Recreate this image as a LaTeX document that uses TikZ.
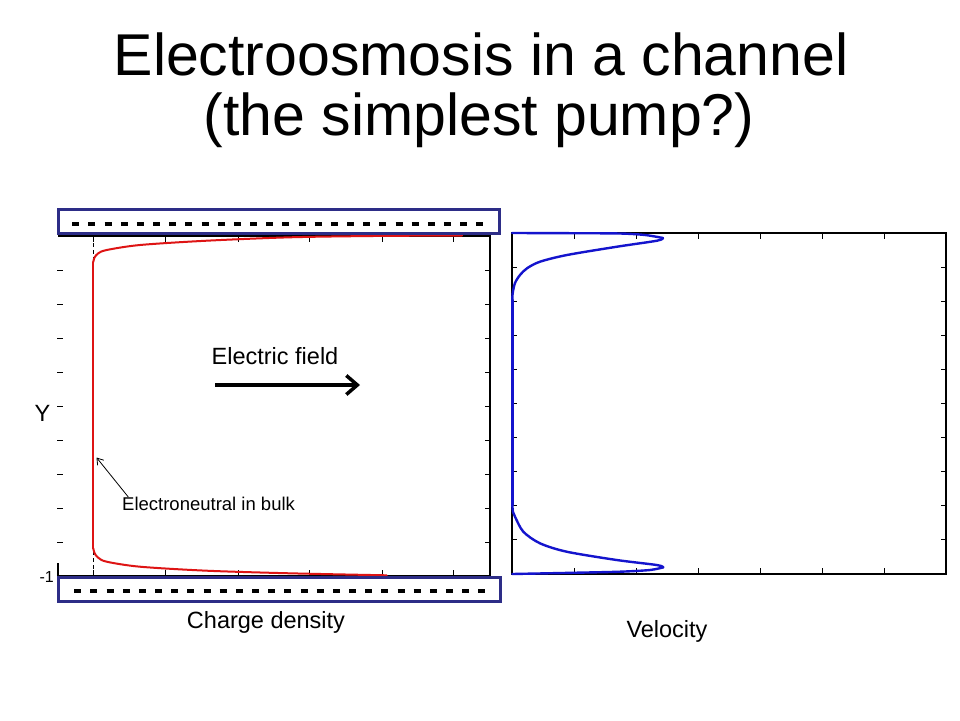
\documentclass[tikz,border=0pt]{standalone}
\usepackage{fontspec}
\setmainfont{Liberation Sans}
\usetikzlibrary{arrows.meta}
\definecolor{navy}{RGB}{45,45,135}
\definecolor{curvered}{RGB}{222,20,20}
\definecolor{curveblue}{RGB}{20,20,205}
\begin{document}
\begin{tikzpicture}[x=1pt,y=-1pt,
  axisline/.style={line width=1.3pt, black},
  tickmark/.style={line width=0.9pt, black},
  wallbox/.style={draw=navy, line width=3pt, fill=white},
  charges/.style={line width=4pt, black, dash pattern=on 7pt off 9.16pt},
  lbl/.style={font=\fontsize{23.5}{27}\selectfont, anchor=base, inner sep=0pt},
  titletext/.style={font=\fontsize{59}{61}\selectfont, anchor=base, inner sep=0pt},
  redcurve/.style={curvered, line width=2pt, line cap=round, line join=round},
  bluecurve/.style={curveblue, line width=2.4pt, line cap=round, line join=round}]
\useasboundingbox (0,0) rectangle (960,720);
\fill[white] (0,0) rectangle (960,720);

% title
\node[titletext] (t1) at (481,75) {Electroosmosis in a channel};
\node[titletext] (t2) at (479,135.5) {(the simplest pump?)};

% ---------- charge density plot ----------
\draw[axisline] (58,236) -- (490,236) -- (490,576) -- (58,576) -- (58,563);
\foreach \x in {93,165.5,238,309.5,382,453} {
  \draw[tickmark] (\x,236) -- ++(0,6);
  \draw[tickmark] (\x,576) -- ++(0,-6);
}
\foreach \k in {1,...,9} {
  \draw[tickmark] (57,{236+34*\k}) -- ++(6,0);
  \draw[tickmark] (490,{236+34*\k}) -- ++(-5,0);
}
\draw[black, line width=0.7pt, dash pattern=on 4pt off 3pt] (93.3,236) -- (93.3,576);
\draw[redcurve] plot[smooth, tension=0.5] coordinates {(462,235.5) (373,236) (290,237.3) (206.7,240.7) (140,245) (106.7,250) (98.3,253.3) (94.5,257.5) (93.3,262)};
\draw[redcurve] (93.3,262) -- (93.3,548.3);
\draw[redcurve] plot[smooth, tension=0.5] coordinates {(93.3,548.3) (94.5,553) (98,557.5) (106.7,561.7) (140,566.7) (206.7,570.7) (290,573.3) (386.7,575.3)};

% walls with negative charges
\node[wallbox, minimum width=441pt, minimum height=24pt, inner sep=0pt] (topwall) at (279,221) {};
\draw[charges] (72.3,224) -- (484.5,224);
\node[wallbox, minimum width=442pt, minimum height=24pt, inner sep=0pt] (botwall) at (279.5,589.5) {};
\draw[charges] (74.3,590.7) -- (486.5,590.7);

% labels of the left plot
\node[lbl] (ylab) at (42.5,421) {Y};
\node[font=\fontsize{16}{18}\selectfont, anchor=base east, inner sep=0pt] (ymin) at (54,582) {-1};
\node[lbl] (xlab) at (266,628) {Charge density};

% electric field arrow
\node[lbl] (efield) at (275,364) {Electric field};
\coordinate (efs) at (215,385);
\coordinate (efe) at (360,385);
\draw[line width=3.5pt, -{Straight Barb[length=11pt, width=19pt]}] (efs) -- (efe);

% annotation
\node[font=\fontsize{18.5}{21}\selectfont, anchor=base west, inner sep=0pt] (neutral) at (122,510) {Electroneutral in bulk};
\coordinate (annA) at (128.3,497);
\coordinate (annB) at (96.5,457.5);
\draw[line width=0.8pt, -{Straight Barb[length=6pt, width=8pt]}] (annA) -- (annB);

% ---------- velocity plot ----------
\draw[axisline] (512,233) rectangle (946,574);
\foreach \k in {1,...,6} {
  \draw[tickmark] ({512+62*\k},233) -- ++(0,6);
  \draw[tickmark] ({512+62*\k},574) -- ++(0,-6);
}
\foreach \k in {1,...,9} {
  \draw[tickmark] (512,{233+34.1*\k}) -- ++(5,0);
  \draw[tickmark] (946,{233+34.1*\k}) -- ++(-5,0);
}
\draw[bluecurve] plot[smooth, tension=0.5] coordinates {(512,233) (570,233.2) (620,233.5) (645,235) (663,238)};
\draw[bluecurve] plot[smooth, tension=0.5] coordinates {(663,238) (657,240.7) (617,246.7) (567,255) (540,261.7) (527,268.3) (520,275) (515,283) (512.7,293) (512.3,300)};
\draw[bluecurve] (512.3,300) -- (512.3,505);
\draw[bluecurve] plot[smooth, tension=0.5] coordinates {(512.3,505) (513,512) (515,516.7) (523.3,531.7) (540,543.3) (566.7,551.7) (616.7,560) (656.7,565) (663.3,567.3)};
\draw[bluecurve] plot[smooth, tension=0.5] coordinates {(663.3,567.3) (650,570) (620,571.7) (576.7,572.7) (512.3,574)};

\node[lbl] (vlab) at (667,637) {Velocity};
\end{tikzpicture}
\end{document}
